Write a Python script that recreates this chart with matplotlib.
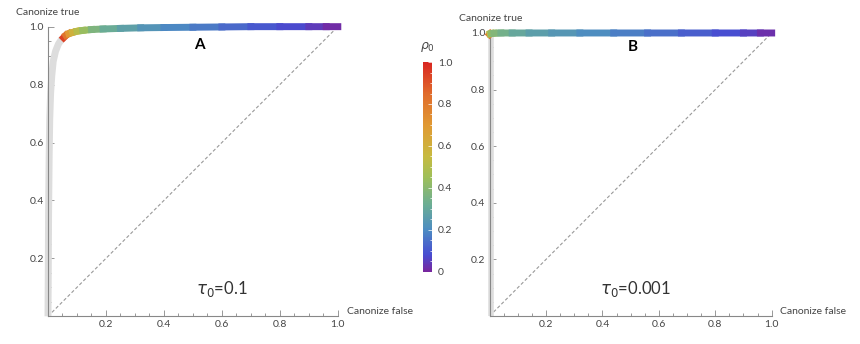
import numpy as np
import matplotlib
matplotlib.use("Agg")
import matplotlib.pyplot as plt
from matplotlib.collections import LineCollection
from matplotlib.colors import LinearSegmentedColormap, Normalize
from matplotlib.ticker import MultipleLocator, FixedLocator

plt.rcParams['font.family'] = ['Lato', 'DejaVu Sans']

# panel A (tau0 = 0.1): grey part (rho0 > 1) and coloured part
a_grey_fpr = [0.0, 0.001, 0.002, 0.004, 0.006, 0.009, 0.013, 0.018, 0.026, 0.036, 0.046, 0.054]
a_grey_tpr = [0.0, 0.15, 0.35, 0.55, 0.68, 0.77, 0.83, 0.88, 0.915, 0.94, 0.955, 0.962]
a_fpr = [0.054, 0.062, 0.072, 0.085, 0.10, 0.12, 0.15, 0.19, 0.25, 0.32, 0.40, 0.50, 0.60, 0.70, 0.80, 0.90, 0.96, 1.0]
a_tpr = [0.962, 0.970, 0.976, 0.980, 0.984, 0.987, 0.990, 0.992, 0.994, 0.996, 0.997, 0.998, 0.999, 1.0, 1.0, 1.0, 1.0, 1.0]
a_rho = [1.0, 0.88, 0.76, 0.64, 0.55, 0.47, 0.40, 0.34, 0.29, 0.25, 0.21, 0.18, 0.15, 0.12, 0.09, 0.06, 0.03, 0.0]

# panel B (tau0 = 0.001)
b_grey_fpr = [0.004, 0.004]
b_grey_tpr = [0.0, 0.99]
b_fpr = [0.0, 0.002, 0.006, 0.015, 0.04, 0.08, 0.14, 0.22, 0.32, 0.44, 0.56, 0.68, 0.80, 0.90, 0.96, 1.0]
b_tpr = [0.995, 0.997, 0.998, 0.999, 1.0, 1.0, 1.0, 1.0, 1.0, 1.0, 1.0, 1.0, 1.0, 1.0, 1.0, 1.0]
b_rho = [1.0, 0.6, 0.45, 0.40, 0.36, 0.32, 0.28, 0.25, 0.22, 0.19, 0.16, 0.13, 0.10, 0.07, 0.04, 0.0]

cb_ticks = [0, 0.2, 0.4, 0.6, 0.8, 1.0]
cb_labels = ['0', '0.2', '0.4', '0.6', '0.8', '1.0']

rainbow = LinearSegmentedColormap.from_list('rainbow_m', [
    (0.00, (0.47, 0.15, 0.62)),
    (0.08, (0.28, 0.30, 0.82)),
    (0.20, (0.30, 0.55, 0.76)),
    (0.32, (0.42, 0.68, 0.58)),
    (0.45, (0.62, 0.75, 0.35)),
    (0.55, (0.78, 0.73, 0.25)),
    (0.70, (0.88, 0.60, 0.20)),
    (0.85, (0.88, 0.42, 0.17)),
    (1.00, (0.85, 0.15, 0.13)),
])
norm = Normalize(0, 1)

fig = plt.figure(figsize=(8.6, 3.44), dpi=100)
axA = fig.add_axes([0.0558, 0.0805, 0.337, 0.842])
axB = fig.add_axes([0.5693, 0.0814, 0.328, 0.8227])
cax = fig.add_axes([0.4915, 0.210, 0.0112, 0.6096])

axis_col = '#888888'
text_col = '#444444'


def style(ax):
    ax.set_xlim(0, 1)
    ax.set_ylim(0, 1)
    for s in ['top', 'right']:
        ax.spines[s].set_visible(False)
    for s in ['left', 'bottom']:
        ax.spines[s].set_color(axis_col)
        ax.spines[s].set_linewidth(0.8)
    ax.xaxis.set_major_locator(FixedLocator([0.2, 0.4, 0.6, 0.8, 1.0]))
    ax.yaxis.set_major_locator(FixedLocator([0.2, 0.4, 0.6, 0.8, 1.0]))
    ax.xaxis.set_minor_locator(MultipleLocator(0.05))
    ax.yaxis.set_minor_locator(MultipleLocator(0.05))
    ax.tick_params(which='both', direction='in', color=axis_col, width=0.6,
                   labelsize=7.5, labelcolor=text_col, pad=3)
    ax.tick_params(which='major', length=4)
    ax.tick_params(which='minor', length=2)
    ax.plot([0, 1], [0, 1], ls=(0, (3, 2)), color='#999999', lw=0.8, zorder=1)


def colored(ax, x, y, r):
    pts = np.column_stack([x, y])
    segs = [pts[i:i + 2] for i in range(len(pts) - 1)]
    cvals = [(r[i] + r[i + 1]) / 2 for i in range(len(r) - 1)]
    lc = LineCollection(segs, colors=rainbow(norm(cvals)), linewidths=5,
                        capstyle='projecting', clip_on=False, zorder=3)
    lc.set_snap(False)
    ax.add_collection(lc)


for ax in (axA, axB):
    style(ax)
    ax.text(-0.11, 1.05, 'Canonize true', transform=ax.transAxes, fontsize=7.5,
            color=text_col, ha='left', va='center')
    ax.text(1.03, 0.0, 'Canonize false', transform=ax.transAxes, fontsize=7.5,
            color=text_col, ha='left', va='bottom')

axA.plot(a_grey_fpr, a_grey_tpr, color='#dddddd', lw=5, solid_capstyle='butt',
         clip_on=False, zorder=2)
colored(axA, a_fpr, a_tpr, a_rho)
axA.text(0.524, 0.935, 'A', fontsize=11, fontweight='bold', ha='center', va='center')
axA.text(0.60, 0.093, r'$\tau_0$=0.1', fontsize=12, color='#333333', ha='center', va='center')

axB.plot(b_grey_fpr, b_grey_tpr, color='#dddddd', lw=4, solid_capstyle='butt',
         clip_on=False, zorder=2)
colored(axB, b_fpr, b_tpr, b_rho)
axB.text(0.508, 0.95, 'B', fontsize=11, fontweight='bold', ha='center', va='center')
axB.text(0.516, 0.095, r'$\tau_0$=0.001', fontsize=12, color='#333333', ha='center', va='center')

sm = plt.cm.ScalarMappable(cmap=rainbow, norm=norm)
cb = fig.colorbar(sm, cax=cax)
cb.outline.set_visible(False)
cb.set_ticks(cb_ticks)
cb.set_ticklabels(cb_labels)
cb.ax.yaxis.set_minor_locator(MultipleLocator(0.05))
cb.ax.tick_params(which='both', direction='in', color='white', width=0.5,
                  labelsize=7.5, labelcolor=text_col, pad=4)
cb.ax.tick_params(which='major', length=3)
cb.ax.tick_params(which='minor', length=1.5)
cax.text(0.5, 1.04, r'$\rho_0$', transform=cax.transAxes, fontsize=9,
         color=text_col, ha='center', va='bottom')

fig.savefig('out.png', dpi=100)
